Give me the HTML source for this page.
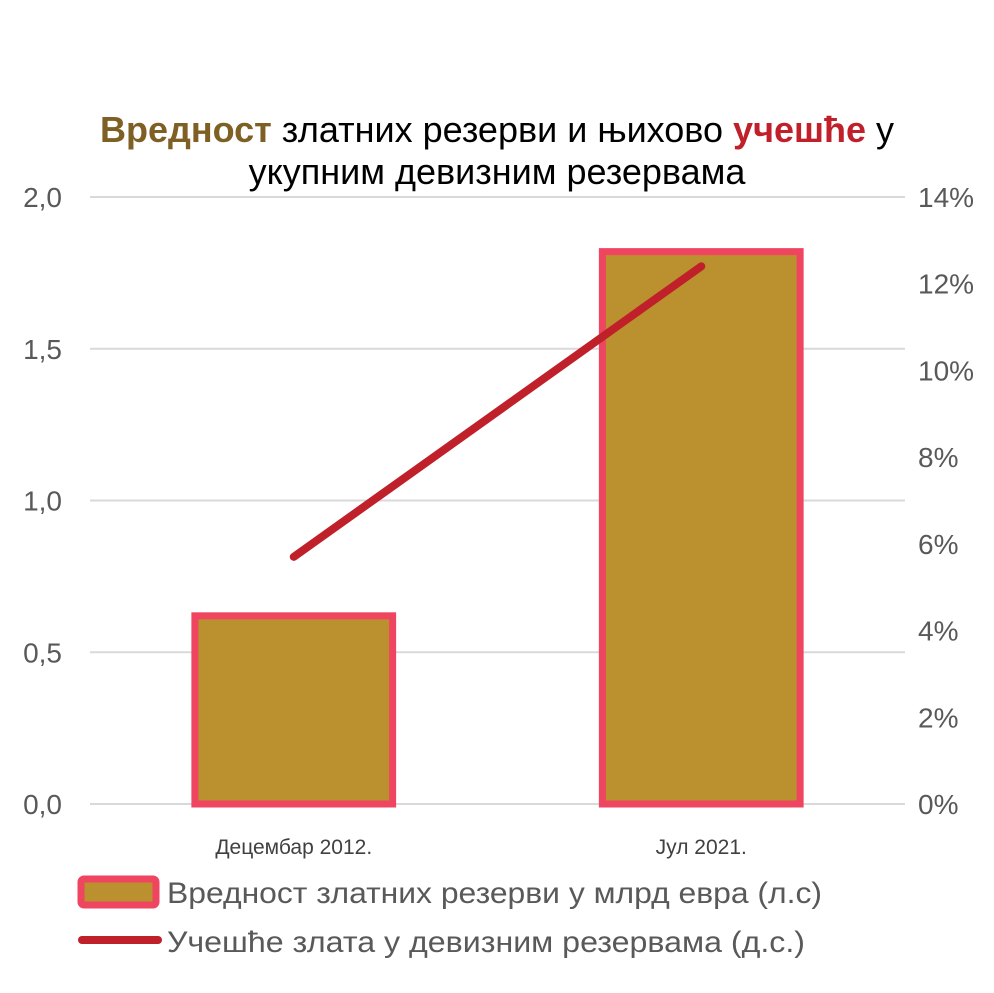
<!DOCTYPE html>
<html><head><meta charset="utf-8"><style>
html,body{margin:0;padding:0;background:#fff;}
svg{display:block;font-family:"Liberation Sans",sans-serif;}
</style></head><body>
<svg id="chart" width="994" height="993" viewBox="0 0 994 993">
<text x="497" y="142" text-anchor="middle" font-size="36" fill="#000"><tspan font-weight="bold" fill="#7f6024">Вредност</tspan> златних  резерви  и њихово <tspan font-weight="bold" fill="#c0202a">учешће</tspan> у</text>
<text x="497" y="184" text-anchor="middle" font-size="36" fill="#000">укупним девизним  резервама</text>
<g id="grid"></g><g id="bars"></g><g id="line"></g><g id="axes"></g>
<g>
<rect x="81" y="879" width="75" height="26" rx="3" fill="#bb902e" stroke="#ef4560" stroke-width="7"/>
<text x="167" y="903" font-size="30" fill="#595959" textLength="655" lengthAdjust="spacingAndGlyphs">Вредност златних резерви у млрд евра (л.с)</text>
<line x1="82" y1="940" x2="158" y2="940" stroke="#c0202a" stroke-width="8" stroke-linecap="round"/>
<text x="167" y="952" font-size="30" fill="#595959" textLength="638" lengthAdjust="spacingAndGlyphs">Учешће злата у девизним резервама (д.с.)</text>
</g>
</svg>
<script>
const categories=["Децембар  2012.","Јул 2021."];
const goldValues=[0.62,1.82];
const sharePct=[5.7,12.4];
const leftTicks=["0,0","0,5","1,0","1,5","2,0"];
const rightTicks=["0%","2%","4%","6%","8%","10%","12%","14%"];
const NS="http://www.w3.org/2000/svg";
const X0=90,X1=905,Y0=804,Y1=197;
const yL=v=>Y0-(v/2)*(Y0-Y1);
const yR=v=>Y0-(v/14)*(Y0-Y1);
const band=(X1-X0)/categories.length;
const xC=i=>X0+band*(i+0.5);
function mk(t,a,p){const e=document.createElementNS(NS,t);for(const k in a)e.setAttribute(k,a[k]);p.appendChild(e);return e;}
const grid=document.getElementById('grid'),axes=document.getElementById('axes');
leftTicks.forEach((t,i)=>{const v=i*0.5;
const g=mk('line',{x1:X0,x2:X1,y1:yL(v),y2:yL(v),stroke:'#d9d9d9','stroke-width':2},grid);


const tx=mk('text',{x:62,y:yL(v)+10,'text-anchor':'end','font-size':28,fill:'#595959'},axes);tx.textContent=t;

});
rightTicks.forEach((t,i)=>{const v=i*2;
const tx=mk('text',{x:918,y:yR(v)+10,'font-size':28,fill:'#595959'},axes);tx.textContent=t;

});
const bars=document.getElementById('bars');const bw=band*0.5;
goldValues.forEach((v,i)=>{
const r=mk('rect',{x:xC(i)-bw/2+3,y:yL(v),width:bw-6,height:Y0-yL(v),fill:'#bb902e',stroke:'#ef4560','stroke-width':7},bars);


const tx=mk('text',{x:xC(i),y:854,'text-anchor':'middle','font-size':21,fill:'#404040'},axes);tx.textContent=categories[i];

});
const pts=sharePct.map((v,i)=>xC(i)+','+yR(v)).join(' ');
const pl=mk('polyline',{points:pts,fill:'none',stroke:'#c0202a','stroke-width':8,'stroke-linecap':'round'},document.getElementById('line'));


</script>
</body></html>
